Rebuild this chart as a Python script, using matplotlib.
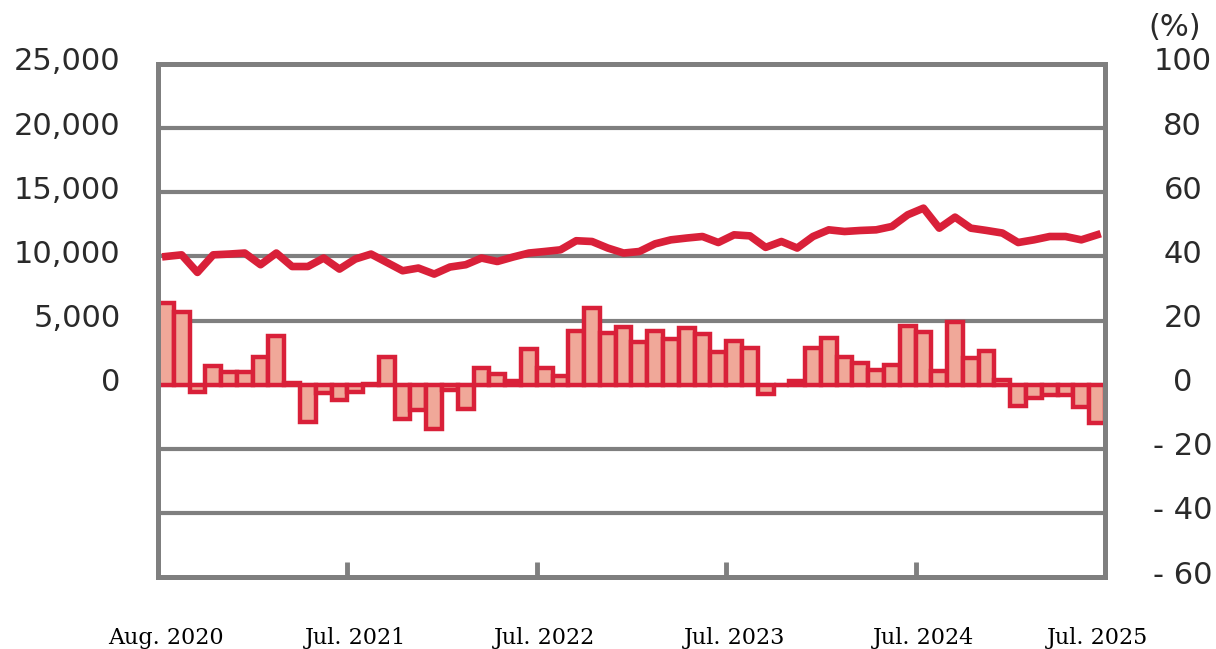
import matplotlib.pyplot as plt
import matplotlib.transforms as mtransforms
import numpy as np

# monthly values, Aug. 2020 .. Jul. 2025
volume = [9990, 10120, 8750, 10120, 10180, 10260, 9350, 10260, 9210, 9210,
          9870, 9010, 9790, 10180, 9530, 8880, 9090, 8620, 9170, 9350,
          9870, 9600, 9950, 10260, 10380, 10510, 11220, 11160, 10650, 10260,
          10380, 10980, 11290, 11430, 11550, 11080, 11680, 11600, 10700, 11160,
          10650, 11550, 12070, 11940, 12020, 12070, 12330, 13240, 13760, 12200,
          13060, 12200, 12020, 11820, 11080, 11290, 11550, 11550, 11290, 11680]

yoy_pct = [25.4, 22.5, -2.2, 5.8, 4.0, 4.0, 8.7, 15.3, 0.6, -11.8,
           -2.5, -4.9, -2.2, 0.3, 8.5, -10.6, -7.9, -13.9, -1.8, -7.7,
           5.3, 3.2, 1.1, 11.1, 5.3, 2.8, 16.8, 24.0, 16.2, 18.1,
           13.4, 16.7, 14.2, 17.8, 15.8, 10.3, 13.6, 11.5, -3.0, -0.2,
           1.2, 11.4, 14.5, 8.6, 6.8, 4.7, 6.0, 18.2, 16.4, 4.2,
           19.5, 8.3, 10.4, 1.3, -6.8, -4.2, -3.3, -3.3, -7.1, -11.9]

date_labels = ['Aug. 2020', 'Jul. 2021', 'Jul. 2022', 'Jul. 2023', 'Jul. 2024', 'Jul. 2025']
date_pos = [0, 12, 24, 36, 48, 59]

left_ticks = [0, 5000, 10000, 15000, 20000, 25000]
right_ticks = [-60, -40, -20, 0, 20, 40, 60, 80, 100]
right_labels = ['- 60', '- 40', '- 20', '0', '20', '40', '60', '80', '100']

red = '#D92039'
pink = '#F0A899'
grey = '#7F7F7F'
cream = '#FEFCEA'
txt = '#2A2A2A'

x = np.arange(len(volume))

fig = plt.figure(figsize=(12.16, 6.49), dpi=100)
ax = fig.add_axes([0.1299, 0.1109, 0.7788, 0.7905])
ax2 = ax.twinx()

ax.set_xlim(-0.5, len(volume) - 0.5)
ax.set_ylim(-15000, 25000)
ax2.set_ylim(-60, 100)

# bars go on the back axes, line and grid on the front one
ax.set_zorder(ax2.get_zorder() + 1)
ax.patch.set_visible(False)
ax2.patch.set_facecolor(cream)

for g in range(-10000, 25000, 5000):
    ax2.axhline(g / 250, color=grey, lw=3, zorder=0)

ax2.bar(x, yoy_pct, width=1.0, color=pink, edgecolor=red, linewidth=3.2, zorder=2)
ax.plot(x, volume, color=red, lw=5.5, zorder=3)

for a in (ax, ax2):
    for s in a.spines.values():
        s.set_color(grey)
        s.set_linewidth(3.5)

ax.set_yticks(left_ticks)
ax.set_yticklabels([f'{v:,}' for v in left_ticks])
ax.tick_params(axis='y', length=0, pad=27, labelsize=22, labelcolor=txt)
ax2.set_yticks(right_ticks)
ax2.set_yticklabels(right_labels, ha='center')
ax2.tick_params(axis='y', length=0, pad=56, labelsize=22, labelcolor=txt)

up = mtransforms.ScaledTranslation(0, 5 / 100, fig.dpi_scale_trans)
for lab in ax.get_yticklabels() + ax2.get_yticklabels():
    lab.set_transform(lab.get_transform() + up)

ax.set_xticks([11.5, 23.5, 35.5, 47.5])
ax.set_xticks(date_pos, minor=True)
ax.set_xticklabels([])
ax.set_xticklabels(date_labels, minor=True, family='DejaVu Serif', fontsize=16)
ax.tick_params(axis='x', which='major', direction='in', length=11, width=3.5, color=grey)
ax.tick_params(axis='x', which='minor', length=0, pad=36)

fig.text(0.966, 0.957, '(%)', ha='center', va='center', fontsize=22, color=txt)

fig.savefig('out.png', dpi=100, facecolor='white')
